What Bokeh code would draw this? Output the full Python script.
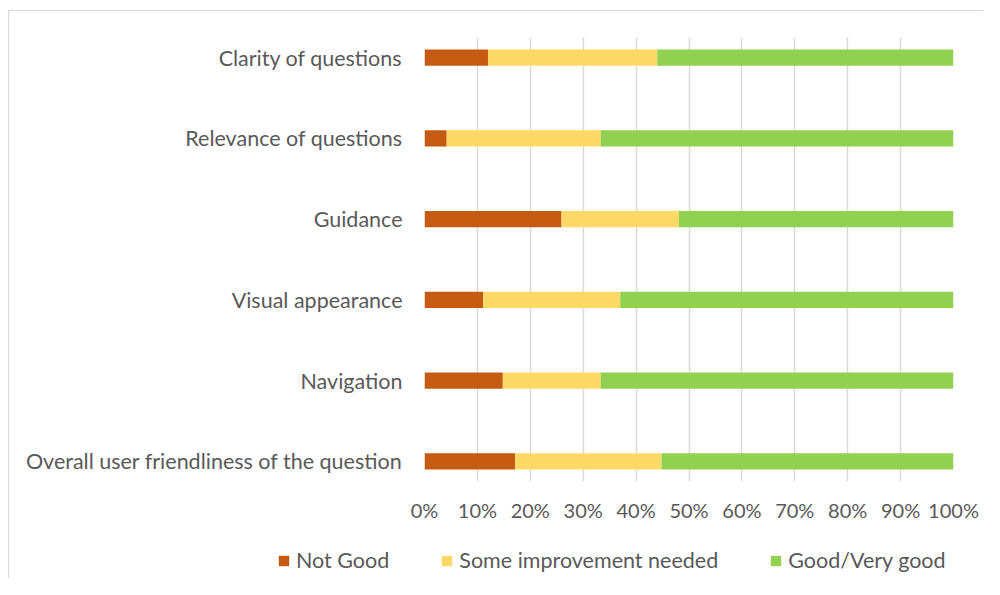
from bokeh.plotting import figure
from bokeh.models import (ColumnDataSource, Range1d, FixedTicker, PrintfTickFormatter,
                          Legend, LegendItem)
from bokeh.embed import file_html
from bokeh.resources import INLINE

# Data (bottom to top)
categories = ["Overall user friendliness of the question", "Navigation", "Visual appearance",
              "Guidance", "Relevance of questions", "Clarity of questions"]
not_good = [17.1, 14.8, 11.1, 25.9, 4.2, 12.0]
some_improvement = [27.7, 18.5, 25.9, 22.2, 29.1, 32.0]
good = [55.2, 66.7, 63.0, 51.9, 66.7, 56.0]
series_names = ["Not Good", "Some improvement needed", "Good/Very good"]
colors = ["#C55A11", "#FFD966", "#92D050"]
x_ticks = [0, 10, 20, 30, 40, 50, 60, 70, 80, 90, 100]

FONT = "Lato"
TXT = "#595959"
BORDER = "1px solid #d9d9d9"

source = ColumnDataSource(dict(
    y=list(range(len(categories))),
    not_good=not_good,
    some=some_improvement,
    good=good,
))

p = figure(width=975, height=515, output_backend="svg", toolbar_location=None,
           x_range=Range1d(0, 100), y_range=Range1d(-0.25, len(categories) - 1 + 0.25),
           min_border_left=415, min_border_right=31, min_border_top=26, min_border_bottom=45,
           styles={"border-left": BORDER, "border-top": BORDER,
                   "margin-top": "10px", "margin-left": "8px"})
p.outline_line_color = None
p.background_fill_color = "white"
p.border_fill_color = "white"

renderers = p.hbar_stack(["not_good", "some", "good"], y="y", height=0.2, color=colors,
                         line_color=None, source=source)

# x axis
p.xaxis.ticker = FixedTicker(ticks=x_ticks)
p.xaxis.formatter = PrintfTickFormatter(format="%d%%")
p.xaxis.axis_line_color = None
p.xaxis.major_tick_line_color = None
p.xaxis.minor_tick_line_color = None
p.xaxis.major_tick_out = 0
p.xaxis.minor_tick_out = 0
p.xaxis.major_label_standoff = 16
p.xaxis.major_label_text_font = FONT
p.xaxis.major_label_text_font_size = "20px"
p.xaxis.major_label_text_color = TXT

# y axis
p.yaxis.ticker = FixedTicker(ticks=list(range(len(categories))))
p.yaxis.major_label_overrides = {i: c for i, c in enumerate(categories)}
p.yaxis.axis_line_color = None
p.yaxis.major_tick_line_color = None
p.yaxis.minor_tick_line_color = None
p.yaxis.major_tick_out = 0
p.yaxis.minor_tick_out = 0
p.yaxis.major_label_standoff = 22
p.yaxis.major_label_text_font = FONT
p.yaxis.major_label_text_font_size = "21.5px"
p.yaxis.major_label_text_color = TXT

p.xgrid.grid_line_color = "#d9d9d9"
p.xgrid.grid_line_width = 1.5
p.ygrid.grid_line_color = None

# Legend strip (separate root below the chart); its bars lie outside its visible range
lf = figure(width=975, height=53, output_backend="svg", toolbar_location=None,
            x_range=Range1d(0, 100), y_range=Range1d(100, 101),
            x_axis_location=None, y_axis_location=None,
            min_border_left=0, min_border_right=0, min_border_top=0, min_border_bottom=0,
            styles={"border-left": BORDER, "margin-left": "8px"})
lf.outline_line_color = None
lf.grid.visible = False
legend_renderers = lf.hbar_stack(["not_good", "some", "good"], y="y", height=0.2, color=colors,
                                 line_color=None, source=source)
legend = Legend(items=[LegendItem(label=n, renderers=[r]) for n, r in zip(series_names, legend_renderers)],
                location=(268, 5), orientation="horizontal", padding=0, margin=0, spacing=51,
                border_line_color=None, background_fill_alpha=0,
                glyph_width=13, glyph_height=13, label_standoff=6,
                label_text_font=FONT, label_text_font_size="21.5px", label_text_color=TXT,
                label_height=24)
lf.add_layout(legend, "center")

open("out.html", "w").write(file_html([p, lf], INLINE))
